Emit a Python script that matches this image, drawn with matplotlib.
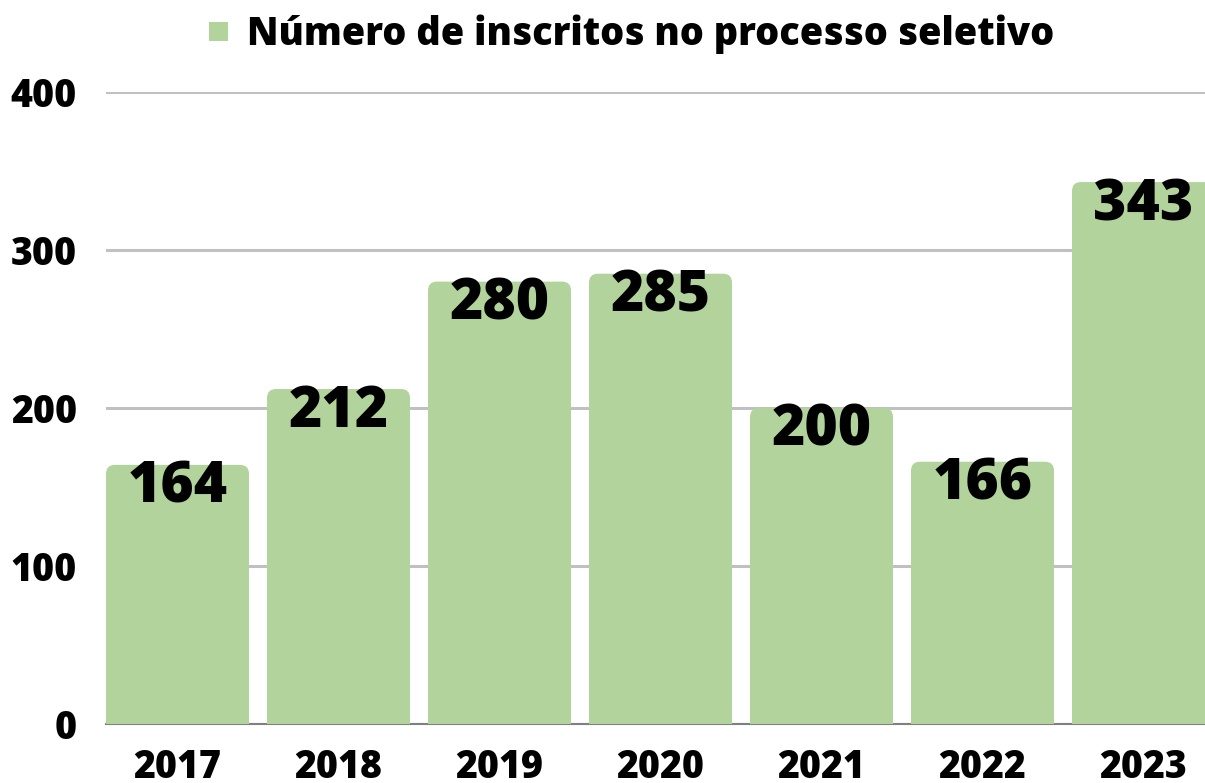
import matplotlib.pyplot as plt
from matplotlib.patches import FancyBboxPatch, Rectangle

plt.rcParams['font.family'] = ['Open Sans', 'DejaVu Sans']

years = ['2017', '2018', '2019', '2020', '2021', '2022', '2023']
inscritos = [164, 212, 280, 285, 200, 166, 343]
yticks = [0, 100, 200, 300, 400]
series_name = 'Número de inscritos no processo seletivo'

bar_color = '#b2d39c'
W, H = 1205, 783

fig = plt.figure(figsize=(W / 100, H / 100), dpi=100)
ax = fig.add_axes([106 / W, (H - 724) / H, (W - 106) / W, (724 - 92) / H])

bar_w = 143 / 161
xs = list(range(len(years)))
ax.set_xlim(-bar_w / 2, (W - 106) / 161 - bar_w / 2)
ax.set_ylim(0, 400)

# px -> data units, for rounded corners
px_x = 1 / 161
px_y = 400 / (724 - 92)
r = 9 * px_x
for x, v in zip(xs, inscritos):
    p = FancyBboxPatch((x - bar_w / 2, -40), bar_w, v + 40,
                       boxstyle=f'round,pad=0,rounding_size={r}',
                       mutation_aspect=px_y / px_x,
                       fc=bar_color, ec='none', zorder=2)
    ax.add_patch(p)
    ax.annotate(str(v), (x, v), xytext=(0, -38 * 0.72), textcoords='offset points',
                ha='center', va='baseline', fontsize=41, fontweight='heavy',
                color='black', zorder=3)

ax.set_yticks(yticks)
ax.set_yticklabels([str(t) for t in yticks])
ax.set_xticks(xs)
ax.set_xticklabels(years)
ax.tick_params(axis='both', length=0, labelsize=27)
ax.tick_params(axis='y', pad=21)
ax.tick_params(axis='x', pad=17)
for lab in ax.get_xticklabels() + ax.get_yticklabels():
    lab.set_fontweight('heavy')

ax.grid(axis='y', color='#c0c0c0', linewidth=2.2, zorder=1)
ax.set_axisbelow(True)
for s in ['top', 'right', 'left']:
    ax.spines[s].set_visible(False)
ax.spines['bottom'].set_color('#808080')
ax.spines['bottom'].set_linewidth(1.5)
ax.spines['bottom'].set_zorder(1)

# legend at the top
fig.patches.append(Rectangle((209 / W, 1 - 41 / H), 19 / W, 19 / H,
                             transform=fig.transFigure, fc=bar_color, ec='none'))
fig.text(247 / W, 1 - 45 / H, series_name, fontsize=27.3, fontweight='heavy',
         ha='left', va='baseline')

fig.savefig('out.png', dpi=100)
